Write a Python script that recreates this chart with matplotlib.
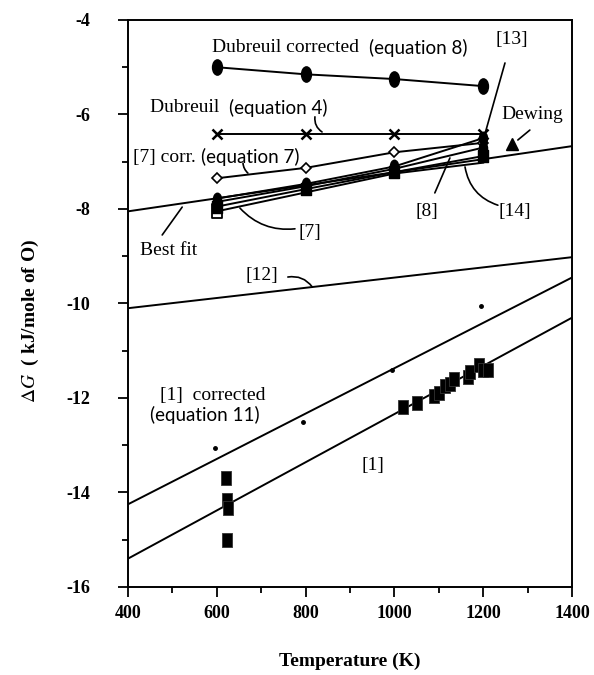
import numpy as np
import matplotlib
matplotlib.use("Agg")
import matplotlib.pyplot as plt
from matplotlib.path import Path
from matplotlib.transforms import Affine2D

plt.rcParams['font.family'] = ['Liberation Serif', 'DejaVu Serif']
plt.rcParams['mathtext.fontset'] = 'stix'

# data
temps = [600, 800, 1000, 1200]
dub_corr = [-5.0, -5.15, -5.25, -5.4]
dub = [-6.42, -6.42, -6.42, -6.42]
ref7_corr = [-7.35, -7.13, -6.8, -6.6]
ref13 = [-7.78, -7.47, -7.1, -6.5]
ref8 = [-7.85, -7.52, -7.15, -6.7]
ref14 = [-7.95, -7.58, -7.22, -6.88]
ref7 = [-8.05, -7.65, -7.25, -7.02]

line_t = [400, 1400]
best_fit = [-8.05, -6.67]
ref12 = [-10.1, -9.02]
ref1_corr = [-14.25, -9.45]
ref1 = [-15.4, -10.3]

dots_t = [595, 795, 995, 1195]
dots_g = [-13.05, -12.5, -11.4, -10.05]

sq_t = [620, 622, 626, 624, 1020, 1050, 1090, 1100, 1115, 1125, 1135,
        1165, 1170, 1190, 1200, 1210]
sq_g = [-13.7, -14.15, -14.33, -15.0, -12.2, -12.1, -11.95, -11.9, -11.75,
        -11.7, -11.6, -11.55, -11.45, -11.3, -11.4, -11.4]

dewing_t = [1265]
dewing_g = [-6.62]

# tall markers
ellipse = Path.unit_circle().transformed(Affine2D().scale(0.65, 1.0))
tall_sq = Path([(-0.38, -0.5), (0.38, -0.5), (0.38, 0.5), (-0.38, 0.5), (-0.38, -0.5)],
               [Path.MOVETO, Path.LINETO, Path.LINETO, Path.LINETO, Path.CLOSEPOLY])

fig = plt.figure(figsize=(5.94, 6.75), dpi=100)
ax = fig.add_axes([0.2155, 0.1304, 0.7475, 0.84])

lw = 1.4
ax.plot(temps, dub_corr, color='k', lw=lw, marker=ellipse, ms=11, mfc='k', mec='k')
ax.plot(temps, dub, color='k', lw=lw, marker='x', ms=7, mew=1.8)
ax.plot(temps, ref7_corr, color='k', lw=lw, marker='D', ms=5.5, mfc='white', mec='k', mew=1.2)
ax.plot(line_t, best_fit, color='k', lw=lw)
ax.plot(temps, ref7, color='k', lw=lw, marker=tall_sq, ms=10, mfc='white', mec='k', mew=1.3,
        markevery=[0])
ax.plot(temps, ref14, color='k', lw=lw, marker=tall_sq, ms=9, mfc='k', mec='k')
ax.plot(temps, ref8, color='k', lw=lw, marker=ellipse, ms=9, mfc='k', mec='k')
ax.plot(temps, ref13, color='k', lw=lw, marker=ellipse, ms=9, mfc='k', mec='k')
ax.plot(dewing_t, dewing_g, ls='none', marker='^', ms=9, color='k')

ax.plot(line_t, ref12, color='k', lw=lw)
ax.plot(line_t, ref1_corr, color='k', lw=lw)
ax.plot(line_t, ref1, color='k', lw=lw)
ax.plot(dots_t, dots_g, ls='none', marker='o', ms=2.5, color='k')
ax.plot(sq_t, sq_g, ls='none', marker=tall_sq, ms=10, mfc='k', mec='#333333', mew=0.6)

ax.set_xlim(400, 1400)
ax.set_ylim(-16, -4)
ax.set_xticks(np.arange(400, 1401, 200))
ax.set_xticks(np.arange(500, 1400, 200), minor=True)
ax.set_yticks(np.arange(-16, -3, 2))
ax.set_yticks(np.arange(-15, -4, 2), minor=True)
ax.set_yticklabels(['-16', '-14', '-12', '-10', '-8', '-6', '-4'])
ax.tick_params(which='major', direction='out', length=7, width=1.3, labelsize=13)
ax.tick_params(which='minor', direction='out', length=4, width=1.3)
ax.tick_params(axis='y', which='major', pad=20)
ax.tick_params(axis='x', which='major', pad=6)
for lab in ax.get_xticklabels() + ax.get_yticklabels():
    lab.set_fontweight('bold')
for s in ax.spines.values():
    s.set_linewidth(1.4)

ax.set_xlabel('Temperature (K)', fontsize=14, fontweight='bold', labelpad=22)
ax.set_ylabel(r'$\Delta G$  ( kJ/mole of O)', fontsize=14, fontweight='bold')
ax.yaxis.set_label_coords(-0.195, 0.47)

serif = 14
sans = dict(family='Lato', fontsize=13.5)

# labels
t1 = ax.text(589, -4.59, 'Dubreuil corrected  ', fontsize=serif, va='center')
ax.annotate('(equation 8)', xy=(1, 0.5), xycoords=t1, va='center', **sans)
t2 = ax.text(450, -5.86, 'Dubreuil  ', fontsize=serif, va='center')
ax.annotate('(equation 4)', xy=(1, 0.5), xycoords=t2, va='center', **sans)
t3 = ax.text(411, -6.9, '[7] corr. ', fontsize=serif, va='center')
ax.annotate('(equation 7)', xy=(1, 0.5), xycoords=t3, va='center', **sans)
ax.text(427, -8.87, 'Best fit', fontsize=serif, va='center')
ax.text(810, -8.49, '[7]', fontsize=serif, va='center', ha='center')
ax.text(1073, -8.06, '[8]', fontsize=serif, va='center', ha='center')
ax.text(1272, -8.06, '[14]', fontsize=serif, va='center', ha='center')
ax.text(1265, -4.42, '[13]', fontsize=serif, va='center', ha='center')
ax.text(1310, -6.0, 'Dewing', fontsize=serif, va='center', ha='center')
ax.text(702, -9.4, '[12]', fontsize=serif, va='center', ha='center')
ax.text(472, -11.94, '[1]  corrected', fontsize=serif, va='center')
ax.text(450, -12.36, '(equation 11)', va='center', **sans)
ax.text(952, -13.42, '[1]', fontsize=serif, va='center', ha='center')

# leader lines
lead = dict(arrowstyle='-', color='k', lw=1.2, shrinkA=0, shrinkB=0)


def leader(p0, p1, rad=0.0):
    ax.annotate('', xy=p1, xytext=p0,
                arrowprops=dict(connectionstyle=f'arc3,rad={rad}', **lead))


leader((821, -6.05), (837, -6.37), 0.3)
leader((659, -7.03), (670, -7.24), 0.2)
leader((477, -8.55), (522, -7.96))
leader((652, -7.98), (776, -8.42), 0.25)
leader((1091, -7.66), (1125, -6.92))
leader((1233, -7.92), (1159, -7.11), -0.3)
leader((1249, -4.91), (1200, -6.54))
leader((1305, -6.33), (1278, -6.54))
leader((760, -9.44), (815, -9.65), -0.3)

fig.savefig('out.png', dpi=100)
